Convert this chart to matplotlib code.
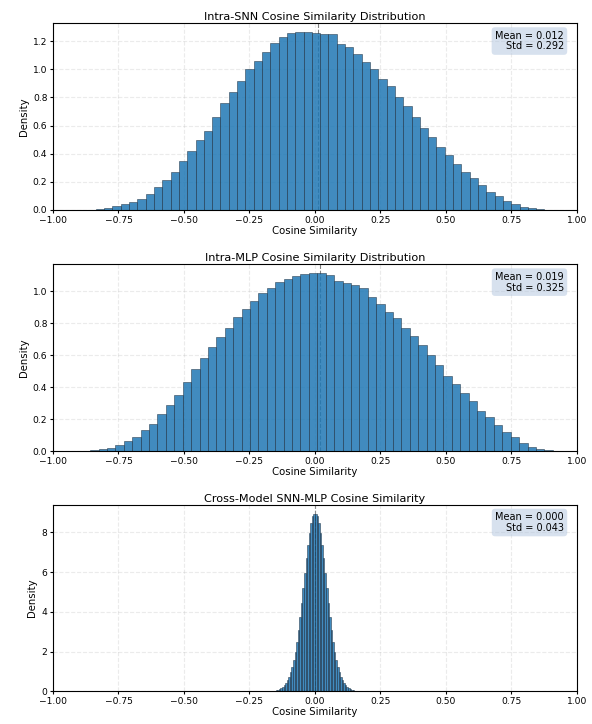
import numpy as np
import matplotlib
matplotlib.use("Agg")
import matplotlib.pyplot as plt

# bin heights (density), left to right
snn_range = (-0.90, 0.908)
snn_density = [0.001, 0.002, 0.005, 0.012, 0.025, 0.04, 0.06, 0.08, 0.11, 0.16,
               0.21, 0.27, 0.35, 0.42, 0.50, 0.56, 0.66, 0.76, 0.84, 0.92,
               1.00, 1.06, 1.12, 1.19, 1.23, 1.255, 1.265, 1.263, 1.26, 1.252,
               1.248, 1.18, 1.16, 1.11, 1.05, 1.00, 0.93, 0.88, 0.80, 0.74,
               0.66, 0.58, 0.52, 0.45, 0.39, 0.33, 0.27, 0.23, 0.18, 0.13,
               0.10, 0.065, 0.04, 0.022, 0.011, 0.005, 0.002]
snn_mean, snn_std = 0.012, 0.292

mlp_range = (-0.89, 0.94)
mlp_density = [0.002, 0.004, 0.01, 0.02, 0.04, 0.065, 0.09, 0.13, 0.17, 0.23,
               0.29, 0.35, 0.43, 0.51, 0.58, 0.65, 0.71, 0.77, 0.84, 0.89,
               0.94, 0.99, 1.02, 1.055, 1.075, 1.095, 1.105, 1.11, 1.112, 1.10,
               1.065, 1.05, 1.04, 1.02, 0.96, 0.92, 0.87, 0.83, 0.77, 0.72,
               0.66, 0.60, 0.54, 0.47, 0.42, 0.36, 0.31, 0.25, 0.21, 0.16,
               0.12, 0.085, 0.05, 0.025, 0.012, 0.005, 0.002]
mlp_mean, mlp_std = 0.019, 0.325

cross_range = (-0.15, 0.15)
cross_density = [0.05, 0.08, 0.12, 0.17, 0.24, 0.32, 0.42, 0.56, 0.74, 0.96,
                 1.22, 1.56, 1.99, 2.50, 3.08, 3.74, 4.46, 5.21, 5.97, 6.71,
                 7.39, 7.99, 8.47, 8.81, 8.95, 8.95, 8.81, 8.47, 7.99, 7.39,
                 6.71, 5.97, 5.21, 4.46, 3.74, 3.08, 2.50, 1.99, 1.56, 1.22,
                 0.96, 0.74, 0.56, 0.42, 0.32, 0.24, 0.17, 0.12, 0.08, 0.05]
cross_mean, cross_std = 0.000, 0.043

titles = ["Intra-SNN Cosine Similarity Distribution",
          "Intra-MLP Cosine Similarity Distribution",
          "Cross-Model SNN-MLP Cosine Similarity"]

panels = [(snn_range, snn_density, snn_mean, snn_std),
          (mlp_range, mlp_density, mlp_mean, mlp_std),
          (cross_range, cross_density, cross_mean, cross_std)]

fig = plt.figure(figsize=(5.92, 7.24), dpi=100)
bottoms = [0.710, 0.377, 0.045]

for (rng, dens, mean, std), title, y0 in zip(panels, titles, bottoms):
    ax = fig.add_axes([0.0895, y0, 0.885, 0.258])
    edges = np.linspace(rng[0], rng[1], len(dens) + 1)
    ax.hist(edges[:-1], bins=edges, weights=dens, histtype='bar',
            color='#1f77b4', alpha=0.85, edgecolor='#1a2a3a', linewidth=0.4)
    ax.axvline(mean, color='black', linestyle='--', linewidth=0.8,
               alpha=0.5, zorder=0.5)
    ax.set_xlim(-1, 1)
    ax.set_axisbelow(True)
    ax.grid(True, alpha=0.25, linestyle='--')
    ax.set_title(title, fontsize=8.1, pad=2)
    ax.set_xlabel("Cosine Similarity", fontsize=7.3, labelpad=1)
    ax.set_ylabel("Density", fontsize=7.3, labelpad=3)
    ax.tick_params(labelsize=6.6, pad=1.5, length=2.5)
    ax.text(0.975, 0.96, f"Mean = {mean:.3f}\nStd = {std:.3f}",
            transform=ax.transAxes, ha='right', va='top', fontsize=7,
            multialignment='right', linespacing=1.1,
            bbox=dict(boxstyle='round,pad=0.35', facecolor='lightsteelblue',
                      alpha=0.5, edgecolor='none'))

fig.savefig("out.png", dpi=100)
plt.close(fig)
